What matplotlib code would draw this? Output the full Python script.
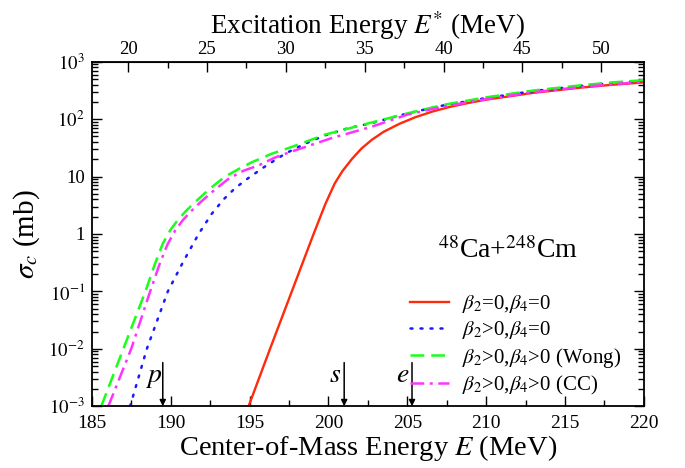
import matplotlib.pyplot as plt
from matplotlib.ticker import MultipleLocator, LogLocator, NullFormatter, FixedLocator, FixedFormatter

plt.rcParams['font.family'] = ['Liberation Serif', 'DejaVu Serif']
plt.rcParams['mathtext.fontset'] = 'stix'

# Q-value of 48Ca+248Cm: E* = E - Q
q_value = 167.3

# capture cross sections (mb) vs center-of-mass energy (MeV)
e_sph = [194.94, 196.3, 197.68, 199.06, 199.8, 200.4, 200.9, 201.5, 202.1, 202.75,
         203.5, 204.5, 205.5, 206.6, 207.7, 208.8, 210.0, 213.0, 216.0, 218.0, 220.0]
sig_sph = [0.001, 0.01, 0.1, 1.0, 3.3, 7.6, 12.6, 20.4, 30.9, 43.7,
           60.3, 83, 108, 136, 164, 190, 219, 288, 355, 398, 437]

e_b2 = [187.43, 188.49, 189.82, 190.8, 191.77, 192.6, 193.35, 194.09, 194.94, 195.9,
        197.26, 198.5, 199.8, 201.2, 202.7, 205.0, 207.3, 210.0, 213.0, 216.0,
        218.0, 220.0]
sig_b2 = [0.001, 0.01, 0.1, 0.33, 1.0, 2.24, 4.0, 6.3, 9.5, 14.5,
          25.1, 37.2, 52.5, 69, 85, 126, 174, 234, 309, 380,
          427, 468]

e_wong = [185.6, 187.0, 188.4, 189.0, 189.5, 190.0, 190.5, 191.0, 191.55, 192.4,
          193.45, 194.3, 195.15, 196.4, 197.7, 199.8, 202.7, 205.0, 207.3, 210.0,
          213.0, 216.0, 218.0, 220.0]
sig_wong = [0.001, 0.01, 0.1, 0.30, 0.68, 1.2, 1.82, 2.57, 3.6, 5.9,
            10, 13.5, 17.8, 25, 33, 54, 87, 126, 178, 240,
            316, 389, 437, 479]

e_cc = [186.05, 187.5, 188.7, 189.3, 189.8, 190.3, 190.8, 191.3, 191.85, 192.7,
        193.7, 194.6, 195.6, 196.6, 197.7, 200.2, 202.75, 205.0, 207.3, 210.0,
        213.0, 216.0, 218.0, 220.0]
sig_cc = [0.001, 0.01, 0.1, 0.30, 0.66, 1.17, 1.78, 2.5, 3.5, 5.6,
          9.3, 12.6, 15.8, 21.4, 27.5, 46.8, 74, 120, 166, 224,
          295, 363, 407, 447]

# barrier markers
marker_e = [189.5, 201.0, 205.3]
marker_txt = ['p', 's', 'e']

fig = plt.figure(figsize=(6.85, 4.68), dpi=100)
ax = fig.add_axes([0.134, 0.132, 0.806, 0.736])

ax.plot(e_sph, sig_sph, color='#ff2a0a', lw=1.7, label=r'$\beta_2$=0,$\beta_4$=0')
ax.plot(e_b2, sig_b2, color='#1a1aff', lw=1.8, linestyle=(0, (0.8, 3.2)),
        dash_capstyle='round', label=r'$\beta_2$>0,$\beta_4$=0')
ax.plot(e_wong, sig_wong, color='#1aff1a', lw=1.8, linestyle=(0, (5.5, 2.8)),
        label=r'$\beta_2$>0,$\beta_4$>0 (Wong)')
ax.plot(e_cc, sig_cc, color='#ff33ff', lw=1.8, linestyle=(0, (5.5, 2.2, 1.2, 2.2)),
        label=r'$\beta_2$>0,$\beta_4$>0 (CC)')

ax.set_yscale('log')
ax.set_xlim(185, 220)
ax.set_ylim(1e-3, 1e3)

ax.xaxis.set_major_locator(MultipleLocator(5))
ax.xaxis.set_minor_locator(MultipleLocator(2.5))
ax.yaxis.set_major_locator(FixedLocator([1e-3, 1e-2, 1e-1, 1, 10, 1e2, 1e3]))
ax.yaxis.set_major_formatter(FixedFormatter([r'$10^{-3}$', r'$10^{-2}$', r'$10^{-1}$',
                                             '1', '10', r'$10^{2}$', r'$10^{3}$']))
ax.yaxis.set_minor_locator(LogLocator(base=10, subs=range(2, 10), numticks=20))
ax.yaxis.set_minor_formatter(NullFormatter())

ax.tick_params(which='both', direction='in', width=1.0)
ax.tick_params(axis='x', which='both', top=False, labelsize=14, pad=6)
ax.tick_params(axis='y', which='both', right=True, labelsize=13.5, pad=5)
ax.tick_params(which='major', length=7)
ax.tick_params(which='minor', length=4)
for sp in ax.spines.values():
    sp.set_linewidth(1.3)

ax.set_xlabel(r'Center-of-Mass Energy $E$ (MeV)', fontsize=20.5, labelpad=1)
ax.set_ylabel(r'$\sigma_c$ (mb)', fontsize=21, labelpad=5)

# excitation energy scale on top
top = ax.secondary_xaxis('top', functions=(lambda e: e - q_value, lambda x: x + q_value))
top.xaxis.set_major_locator(FixedLocator([20, 25, 30, 35, 40, 45, 50]))
top.xaxis.set_minor_locator(FixedLocator([22.5, 27.5, 32.5, 37.5, 42.5, 47.5]))
top.tick_params(which='both', direction='in', labelsize=13.5, width=1.0, pad=3)
top.tick_params(which='major', length=7)
top.tick_params(which='minor', length=4)
top.set_xlabel(r'Excitation Energy $E^{*}$ (MeV)', fontsize=19.5, labelpad=5)

for e, t in zip(marker_e, marker_txt):
    ax.annotate('', xy=(e, 1e-3), xytext=(e, 10 ** -2.24),
                arrowprops=dict(arrowstyle='-|>', color='k', lw=1.1,
                                mutation_scale=9, shrinkA=0, shrinkB=0))
    ax.text(e - 0.6, 10 ** -2.58, '$' + t + '$', fontsize=20, ha='center', va='baseline')

ax.text(211.4, 10 ** -0.28, r'$^{48}$Ca+$^{248}$Cm', fontsize=20, ha='center', va='center')

ax.legend(loc='upper left', bbox_to_anchor=(0.576, 0.328), frameon=False, fontsize=15,
          handlelength=1.9, handletextpad=0.6, labelspacing=0.2, borderpad=0,
          borderaxespad=0)

fig.savefig('out.png', dpi=100)
